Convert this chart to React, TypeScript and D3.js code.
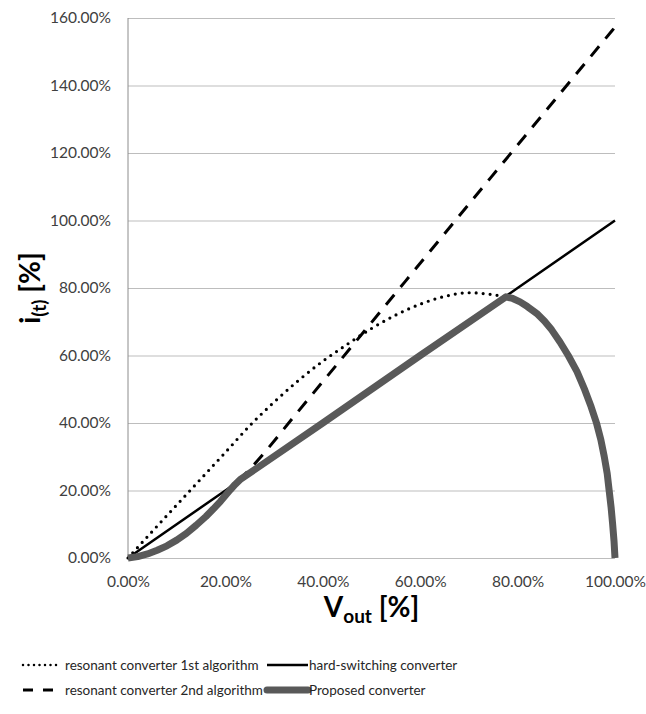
import { useEffect, useRef } from 'react';
import * as d3 from 'd3';

// axis ticks (percent)
const xTicks = [0, 20, 40, 60, 80, 100];
const yTicks = [0, 20, 40, 60, 80, 100, 120, 140, 160];

// resonant converter 1st algorithm (dotted)
const dottedX = [0, 5, 10, 15, 20, 25, 30, 35, 40, 45, 50, 55, 60, 65, 70, 75, 77.6];
const dottedY = [0, 7.9, 15.7, 23.5, 31.3, 39.2, 46.2, 52.6, 58.3, 63.3, 68.0, 72.0, 75.2, 77.5, 78.6, 78.0, 77.4];

// hard-switching converter (solid)
const hardX = [0, 20, 40, 60, 80, 100];
const hardY = [0, 20, 40, 60, 80, 100];

// resonant converter 2nd algorithm (dashed)
const dashedX = [0, 2, 4, 6, 8, 10, 12, 14, 16, 17.5, 19, 20, 21, 26.4, 34.3, 45.9, 56.9, 67.4, 77.4, 89, 100];
const dashedY = [0, 0.4, 1.2, 2.3, 3.6, 5.3, 7.3, 9.7, 12.3, 14.5, 16.8, 18.5, 20.2, 28.5, 42.3, 62.6, 81.9, 100.3, 117.8, 138.1, 157.3];

// proposed converter (thick grey)
const propX = [0, 2, 4, 6, 8, 10, 12, 14, 16, 17.5, 19, 20, 21, 22, 23, 40, 60, 77.6, 79, 80.5, 82, 83.9, 85.5, 87, 88.7, 90.4, 92.2, 93.8, 95.1, 96.2, 97.1, 97.8, 98.4, 98.8, 99.2, 99.5, 99.8, 100];
const propY = [0, 0.4, 1.2, 2.3, 3.6, 5.3, 7.3, 9.7, 12.3, 14.5, 16.8, 18.5, 20.2, 21.8, 23.2, 40, 60, 77.4, 76.9, 75.9, 74.5, 72.5, 70.2, 67.6, 64, 60, 55.2, 49.8, 44.8, 40, 35, 30, 25, 20, 15, 10.3, 5, 0];

const FONT = "Lato, 'Open Sans', sans-serif";

export default function App() {
    const svgRef = useRef<SVGSVGElement>(null);
    const W = 646;
    const H = 714;

    useEffect(() => {
        if (!svgRef.current) return;
        const svg = d3.select(svgRef.current);
        svg.selectAll('*').remove();

        const left = 128, right = 615, top = 18, bottom = 558;

        const x = d3.scaleLinear().domain([0, 100]).range([left, right]);
        const y = d3.scaleLinear().domain([0, 160]).range([bottom, top]);

        const fmt = (d: number) => d.toFixed(2) + '%';

        // y axis with gridlines
        const yAxis = svg.append('g')
            .attr('transform', `translate(${left},0)`)
            .call(d3.axisLeft(y).tickValues(yTicks).tickSize(-(right - left)).tickPadding(17).tickFormat(fmt as any));
        yAxis.select('.domain').remove();
        yAxis.selectAll('.tick line').attr('stroke', '#bdbdbd').attr('stroke-width', 1);
        yAxis.selectAll('.tick text')
            .style('font-family', FONT)
            .style('font-size', '15.5px')
            .attr('fill', '#404040');

        svg.append('line')
            .attr('x1', left).attr('x2', left)
            .attr('y1', top).attr('y2', bottom)
            .attr('stroke', '#8c8c8c').attr('stroke-width', 1);

        // x axis labels
        const xAxis = svg.append('g')
            .attr('transform', `translate(0,${bottom})`)
            .call(d3.axisBottom(x).tickValues(xTicks).tickSize(0).tickPadding(18).tickFormat(fmt as any));
        xAxis.select('.domain').remove();
        xAxis.selectAll('.tick text')
            .style('font-family', FONT)
            .style('font-size', '15.5px')
            .attr('fill', '#404040');

        const line = (curve: d3.CurveFactory) => d3.line<[number, number]>()
            .x(d => x(d[0]))
            .y(d => y(d[1]))
            .curve(curve);

        const zip = (xs: number[], ys: number[]) => xs.map((v, i) => [v, ys[i]] as [number, number]);

        const plot = svg.append('g');

        // dotted
        plot.append('path')
            .datum(zip(dottedX, dottedY))
            .attr('fill', 'none')
            .attr('stroke', '#000')
            .attr('stroke-width', 3.2)
            .attr('stroke-linecap', 'round')
            .attr('stroke-dasharray', '0 7')
            .attr('d', line(d3.curveMonotoneX));

        // hard-switching
        plot.append('path')
            .datum(zip(hardX, hardY))
            .attr('fill', 'none')
            .attr('stroke', '#000')
            .attr('stroke-width', 2.5)
            .attr('d', line(d3.curveLinear));

        // dashed
        plot.append('path')
            .datum(zip(dashedX, dashedY))
            .attr('fill', 'none')
            .attr('stroke', '#000')
            .attr('stroke-width', 3)
            .attr('stroke-dasharray', '13 10')
            .attr('d', line(d3.curveMonotoneX));

        // proposed
        plot.append('path')
            .datum(zip(propX, propY))
            .attr('fill', 'none')
            .attr('stroke', '#595959')
            .attr('stroke-width', 7)
            .attr('stroke-linejoin', 'round')
            .attr('d', line(d3.curveLinear));

        // axis titles
        const xt = svg.append('text')
            .attr('x', (left + right) / 2)
            .attr('y', 617)
            .attr('text-anchor', 'middle')
            .style('font-family', FONT)
            .style('font-size', '28px')
            .style('font-weight', 'bold')
            .attr('fill', '#000');
        xt.append('tspan').text('V');
        xt.append('tspan').attr('dy', 6).style('font-size', '19px').text('out');
        xt.append('tspan').attr('dy', -6).text(' [%]');

        const yt = svg.append('text')
            .attr('transform', `translate(40,${(top + bottom) / 2}) rotate(-90)`)
            .attr('text-anchor', 'middle')
            .style('font-family', FONT)
            .style('font-size', '28px')
            .style('font-weight', 'bold')
            .attr('fill', '#000');
        yt.append('tspan').text('i');
        yt.append('tspan').attr('dy', 6).style('font-size', '19px').text('(t)');
        yt.append('tspan').attr('dy', -6).text(' [%]');

        // legend
        const legend = svg.append('g');
        const rows = [
            { x1: 23, x2: 60, y: 665, dash: '0 5.5', w: 2.5, color: '#000', cap: 'round', label: 'resonant converter 1st algorithm', tx: 65 },
            { x1: 267, x2: 308, y: 665, dash: 'none', w: 2.5, color: '#000', cap: 'butt', label: 'hard-switching converter', tx: 309 },
            { x1: 23, x2: 53, y: 690, dash: '10 10', w: 3, color: '#000', cap: 'butt', label: 'resonant converter 2nd algorithm', tx: 65 },
            { x1: 267, x2: 308, y: 690, dash: 'none', w: 7, color: '#595959', cap: 'round', label: 'Proposed converter', tx: 309 },
        ];
        rows.forEach(r => {
            legend.append('line')
                .attr('x1', r.x1).attr('x2', r.x2)
                .attr('y1', r.y).attr('y2', r.y)
                .attr('stroke', r.color)
                .attr('stroke-width', r.w)
                .attr('stroke-linecap', r.cap)
                .attr('stroke-dasharray', r.dash);
            legend.append('text')
                .attr('x', r.tx)
                .attr('y', r.y + 5)
                .style('font-family', FONT)
                .style('font-size', '13.5px')
                .attr('fill', '#262626')
                .text(r.label);
        });
    }, []);

    return (
        <svg
            ref={svgRef}
            width={W}
            height={H}
            style={{ position: 'absolute', left: 0, top: 0, background: '#fff' }}
        />
    );
}
